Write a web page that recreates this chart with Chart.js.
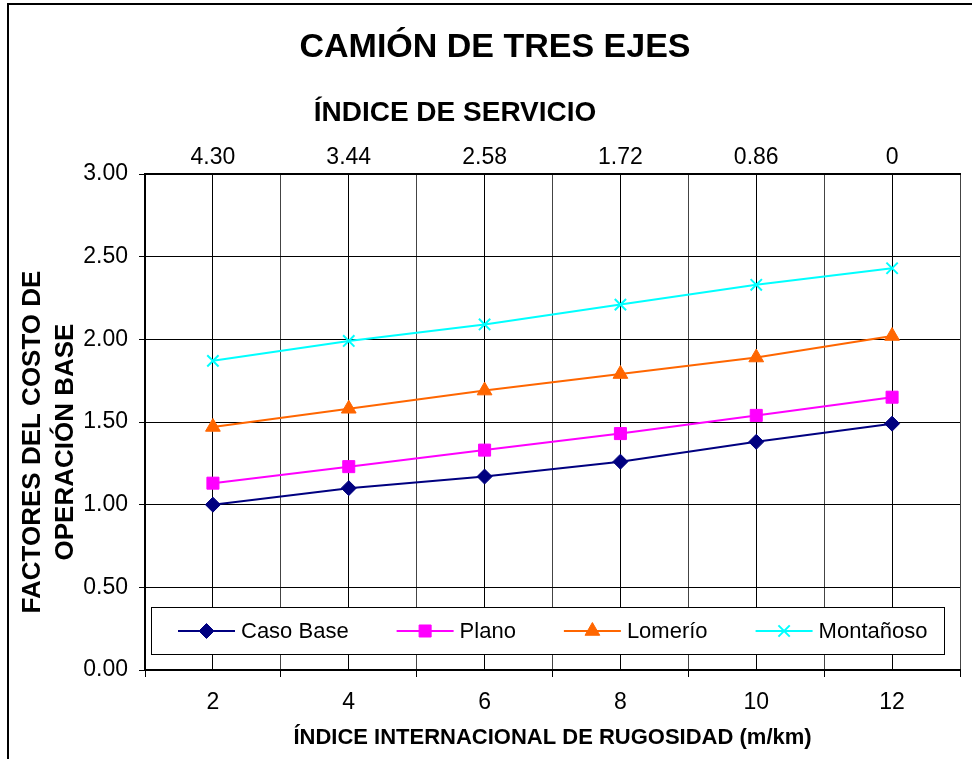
<!DOCTYPE html>
<html>
<head>
<meta charset="utf-8">
<script src="https://cdn.jsdelivr.net/npm/chart.js@4.4.1/dist/chart.umd.min.js"></script>
<style>
  html, body { margin: 0; padding: 0; background: #fff; }
  canvas { display: block; }
</style>
</head>
<body>
<canvas id="c" width="972" height="759"></canvas>
<script>
// ---- data ----
const categories = [2, 4, 6, 8, 10, 12];              // Índice internacional de rugosidad (m/km)
const serviceIndex = ['4.30', '3.44', '2.58', '1.72', '0.86', '0']; // Índice de servicio
const casoBase  = [1.00, 1.10, 1.17, 1.26, 1.38, 1.49];
const plano     = [1.13, 1.23, 1.33, 1.43, 1.54, 1.65];
const lomerio   = [1.47, 1.58, 1.69, 1.79, 1.89, 2.02];
const montanoso = [1.87, 1.99, 2.09, 2.21, 2.33, 2.43];
const seriesNames = ['Caso Base', 'Plano', 'Lomerío', 'Montañoso'];
const yTicks = [0, 0.5, 1, 1.5, 2, 2.5, 3];

const FONT = "'Liberation Sans', Arial, sans-serif";
const pts = arr => arr.map((v, i) => ({ x: categories[i], y: v }));

const styles = [
  { color: '#000080', pointStyle: 'rectRot', radius: 7.5 },
  { color: '#FF00FF', pointStyle: 'rect', radius: 8.5 },
  { color: '#FF6600', pointStyle: 'triangle', radius: 8.5 },
  { color: '#00FFFF', pointStyle: 'crossRot', radius: 8 }
];
const values = [casoBase, plano, lomerio, montanoso];

const datasets = values.map((v, i) => ({
  label: seriesNames[i],
  data: pts(v),
  borderColor: styles[i].color,
  backgroundColor: styles[i].color,
  pointBackgroundColor: styles[i].color,
  pointBorderColor: styles[i].color,
  pointStyle: styles[i].pointStyle,
  pointRadius: styles[i].radius,
  pointBorderWidth: i === 3 ? 2 : 1,
  borderWidth: 2,
  tension: 0,
  fill: false
}));

// frame + background
const framePlugin = {
  id: 'frame',
  beforeDraw(chart) {
    const ctx = chart.ctx;
    ctx.save();
    ctx.fillStyle = '#fff';
    ctx.fillRect(0, 0, chart.width, chart.height);
    ctx.strokeStyle = '#000';
    ctx.lineWidth = 2;
    ctx.beginPath();
    ctx.moveTo(8, chart.height);
    ctx.lineTo(8, 4);
    ctx.lineTo(chart.width, 4);
    ctx.stroke();
    ctx.restore();
  }
};

// top-axis title and two-line y-axis title
const axisTitlesPlugin = {
  id: 'axisTitles',
  afterDraw(chart) {
    const ctx = chart.ctx;
    const ca = chart.chartArea;
    ctx.save();
    ctx.fillStyle = '#000';
    ctx.textAlign = 'center';
    ctx.textBaseline = 'middle';
    // top axis title
    ctx.font = 'bold 28px ' + FONT;
    ctx.fillText('ÍNDICE DE SERVICIO', ca.left + 310, ca.top - 61);
    // y axis title
    const cy = (ca.top + ca.bottom) / 2 + 20;
    ctx.font = 'bold 26px ' + FONT;
    const lines = ['FACTORES DEL COSTO DE', 'OPERACIÓN BASE'];
    const xs = [33, 66];
    lines.forEach((t, i) => {
      ctx.save();
      ctx.translate(xs[i], cy);
      ctx.rotate(-Math.PI / 2);
      ctx.fillText(t, 0, 0);
      ctx.restore();
    });
    ctx.restore();
  }
};

// legend inside the plot area
const legendPlugin = {
  id: 'innerLegend',
  afterDraw(chart) {
    const ctx = chart.ctx;
    const ca = chart.chartArea;
    const bx = ca.left + 6, by = ca.bottom - 63, bw = ca.right - ca.left - 22, bh = 47;
    ctx.save();
    ctx.fillStyle = '#fff';
    ctx.fillRect(bx, by, bw, bh);
    ctx.strokeStyle = '#000';
    ctx.lineWidth = 1;
    ctx.strokeRect(bx + 0.5, by + 0.5, bw, bh);
    ctx.font = '22px ' + FONT;
    ctx.textBaseline = 'middle';
    ctx.textAlign = 'left';
    const cy = by + bh / 2 + 0.5;
    let x = bx + 27;
    chart.data.datasets.forEach((ds) => {
      ctx.strokeStyle = ds.borderColor;
      ctx.lineWidth = 2;
      ctx.beginPath();
      ctx.moveTo(x, cy);
      ctx.lineTo(x + 57, cy);
      ctx.stroke();
      ctx.fillStyle = ds.pointBackgroundColor;
      ctx.strokeStyle = ds.pointBorderColor;
      ctx.lineWidth = ds.pointBorderWidth;
      Chart.helpers.drawPoint(ctx, { pointStyle: ds.pointStyle, radius: ds.pointRadius, rotation: 0, borderWidth: ds.pointBorderWidth }, x + 28.5, cy);
      ctx.fillStyle = '#000';
      ctx.fillText(ds.label, x + 63, cy + 1);
      x += 63 + ctx.measureText(ds.label).width + 48;
    });
    ctx.restore();
  }
};

new Chart(document.getElementById('c'), {
  type: 'line',
  data: { datasets },
  plugins: [framePlugin, axisTitlesPlugin, legendPlugin],
  options: {
    responsive: false,
    animation: false,
    layout: { padding: { left: 29, right: 11, top: 0, bottom: 0 } },
    plugins: {
      legend: { display: false },
      tooltip: { enabled: false },
      title: {
        display: true,
        text: 'CAMIÓN DE TRES EJES',
        color: '#000',
        font: { family: FONT, size: 34, weight: 'bold', lineHeight: 1.2 },
        padding: { top: 27, bottom: 0 }
      }
    },
    scales: {
      x: {
        type: 'linear',
        position: 'bottom',
        min: 1, max: 13,
        afterFit(s) { s.height = 89; },
        ticks: {
          stepSize: 1, autoSkip: false, maxRotation: 0, padding: 12,
          color: '#000',
          font: { family: FONT, size: 23 },
          callback: v => (categories.includes(v) ? String(v) : '')
        },
        grid: {
          color: c => (c.tick && c.tick.value % 2 === 0 ? '#000' : '#444'),
          lineWidth: 1,
          drawTicks: true,
          tickLength: 7,
          tickColor: c => (c.tick && c.tick.value % 2 === 1 ? '#000' : 'rgba(0,0,0,0)')
        },
        border: { color: '#000', width: 2 },
        title: {
          display: true,
          text: 'ÍNDICE INTERNACIONAL DE RUGOSIDAD (m/km)',
          color: '#000',
          font: { family: FONT, size: 22, weight: 'bold', lineHeight: 1.2 },
          padding: { top: 0, bottom: 8 }
        }
      },
      x2: {
        type: 'linear',
        position: 'top',
        min: 1, max: 13,
        afterFit(s) { s.height = 174 - 67.8; },
        ticks: {
          stepSize: 1, autoSkip: false, maxRotation: 0, padding: 3,
          color: '#000',
          font: { family: FONT, size: 23 },
          callback: v => { const i = categories.indexOf(v); return i >= 0 ? serviceIndex[i] : ''; }
        },
        grid: { display: false, drawTicks: false },
        border: { display: true, color: '#000', width: 2 }
      },
      y: {
        min: 0, max: 3,
        afterFit(s) { s.width = 116; },
        afterBuildTicks(s) { s.ticks = yTicks.map(v => ({ value: v })); },
        ticks: {
          padding: 11,
          color: '#000',
          font: { family: FONT, size: 23 },
          callback: v => Number(v).toFixed(2)
        },
        grid: { color: '#000', lineWidth: 1, drawTicks: true, tickLength: 6, tickColor: '#000' },
        border: { color: '#000', width: 2 }
      }
    }
  }
});
</script>
</body>
</html>
